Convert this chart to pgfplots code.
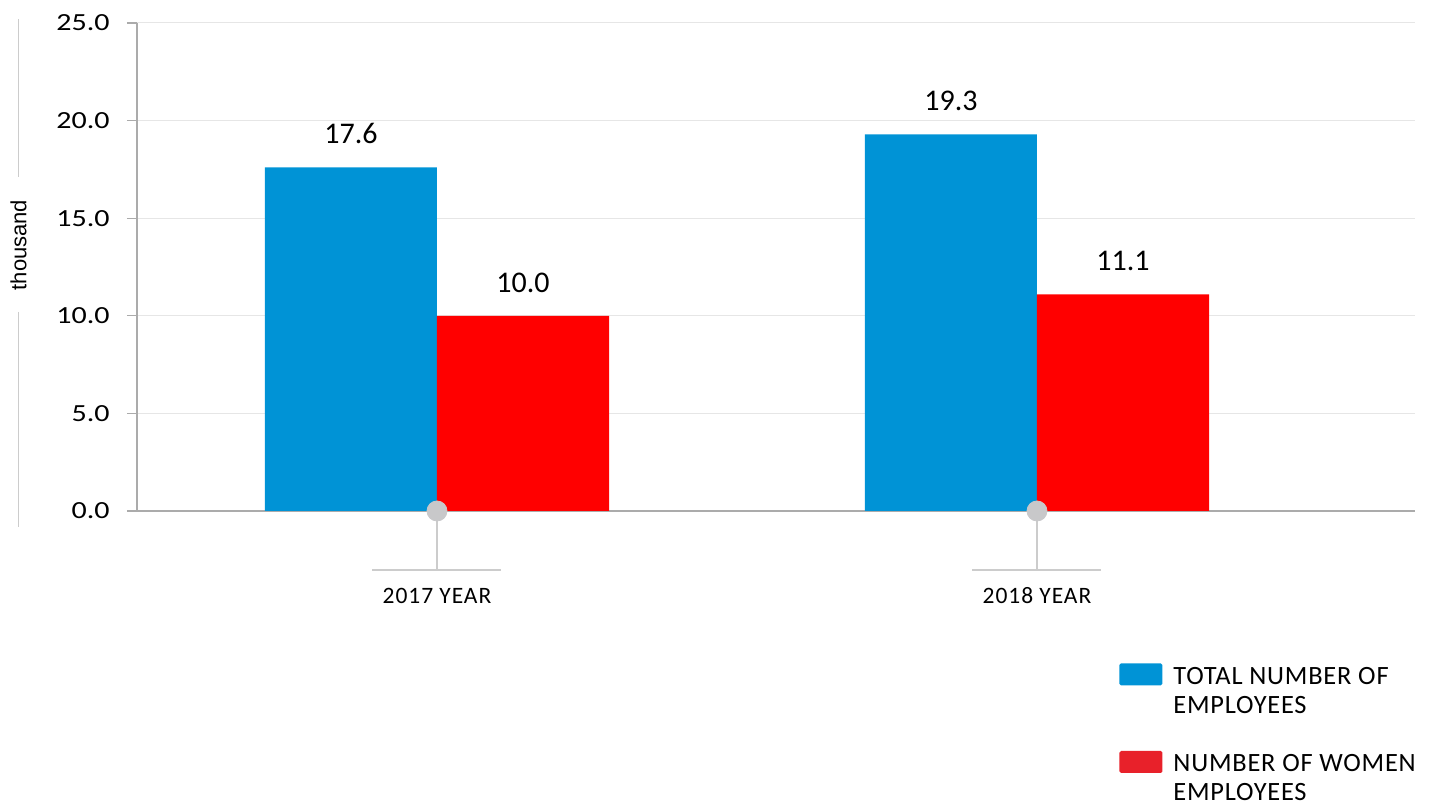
\documentclass[border=0pt]{standalone}
\usepackage{pgfplots}
\pgfplotsset{compat=1.18}
\usepackage{fontspec}
\setmainfont{Carlito}
\newfontfamily\arialfont{Liberation Sans}
\newfontfamily\catfont[LetterSpace=4]{Carlito}
\newfontfamily\legfont[LetterSpace=3]{Carlito}
\definecolor{barblue}{HTML}{0093D6}
\definecolor{barred}{HTML}{FF0000}
\definecolor{legred}{HTML}{E8212A}
\definecolor{gridgray}{HTML}{E6E6E6}
\definecolor{axisgray}{HTML}{ABABAB}
\definecolor{decogray}{HTML}{CCCCCC}
\definecolor{dotgray}{HTML}{C8C8CA}
\begin{document}
\begin{tikzpicture}
\path[use as bounding box] (0,0) rectangle (716pt,403.5pt);
\begin{axis}[
  at={(68.5pt,148pt)}, anchor=south west,
  scale only axis, width=639pt, height=244pt,
  xmin=-0.5, xmax=1.63, ymin=0, ymax=25,
  clip=false,
  axis x line*=bottom, axis y line*=left,
  axis line style={axisgray, line width=0.6pt, -},
  /pgf/number format/assume math mode=true,
  ytick={0,5,10,15,20,25},
  yticklabel={\scalebox{1.22}[1]{\pgfmathprintnumber[fixed,fixed zerofill,precision=1]{\tick}}},
  yticklabel style={font=\fontsize{12.3}{14}\selectfont, inner sep=0pt, anchor=east, xshift=-8.5pt},
  ytick style={axisgray, line width=0.6pt},
  tick align=outside, major tick length=5pt,
  ymajorgrids, grid style={gridgray, line width=0.5pt},
  xtick={0,1}, xticklabels={2017 YEAR,2018 YEAR},
  xtick style={draw=none},
  xticklabel style={font=\catfont\fontsize{11.75}{14}\selectfont, inner sep=0pt, anchor=base, yshift=-41.5pt},
  ylabel={thousand},
  ylabel style={font=\arialfont\fontsize{11}{13}\selectfont, at={(axis description cs:-0.0927,0.545)}, anchor=center},
  legend style={at={(axis description cs:0.7684,-0.3115)}, anchor=north west, draw=none, fill=none,
    inner sep=0pt, column sep=5.5pt, row sep=0pt,
    font=\legfont\fontsize{13.2}{14.5}\selectfont,
    nodes={inner sep=0pt, text height=10.2pt, text depth=4.3pt, anchor=base west}},
]
\addplot[ybar, bar width=86pt, bar shift=-43pt, fill=barblue, draw=none,
  nodes near coords={\pgfmathprintnumber[fixed,fixed zerofill,precision=1]{\pgfplotspointmeta}},
  nodes near coords style={font=\fontsize{15}{18}\selectfont, inner sep=0pt, anchor=south, yshift=11.5pt, xshift=-43pt, text=black, text height=, text depth=},
  legend image code/.code={\fill[barblue, rounded corners=0.8pt] (0pt,-0.5pt) rectangle (21.5pt,10.5pt);}]
  coordinates {(0,17.6) (1,19.3)};
\addlegendentry{TOTAL NUMBER OF}
\addlegendimage{empty legend}
\addlegendentry{EMPLOYEES}
\addlegendimage{empty legend}
\addlegendentry{}
\addplot[ybar, bar width=86pt, bar shift=43pt, fill=barred, draw=none,
  nodes near coords={\pgfmathprintnumber[fixed,fixed zerofill,precision=1]{\pgfplotspointmeta}},
  nodes near coords style={font=\fontsize{15}{18}\selectfont, inner sep=0pt, anchor=south, yshift=11.5pt, xshift=43pt, text=black},
  legend image code/.code={\fill[legred, rounded corners=0.8pt] (0pt,-0.5pt) rectangle (21.5pt,10.5pt);}]
  coordinates {(0,10.0) (1,11.1)};
\addlegendentry{NUMBER OF WOMEN}
\addlegendimage{empty legend}
\addlegendentry{EMPLOYEES}
% category markers
\draw[decogray, line width=0.6pt] (axis cs:0,0) -- ++(0pt,-29.5pt) ++(-32.25pt,0pt) -- ++(64.5pt,0pt);
\draw[decogray, line width=0.6pt] (axis cs:1,0) -- ++(0pt,-29.5pt) ++(-32.25pt,0pt) -- ++(64.5pt,0pt);
\addplot[only marks, mark=*, mark size=5pt, color=dotgray, forget plot] coordinates {(0,0) (1,0)};
% y label decoration
\draw[decogray, line width=0.6pt] (axis description cs:-0.0927,1.008) -- (axis description cs:-0.0927,0.684);
\draw[decogray, line width=0.6pt] (axis description cs:-0.0927,0.408) -- (axis description cs:-0.0927,-0.0328);
\end{axis}
\end{tikzpicture}
\end{document}
